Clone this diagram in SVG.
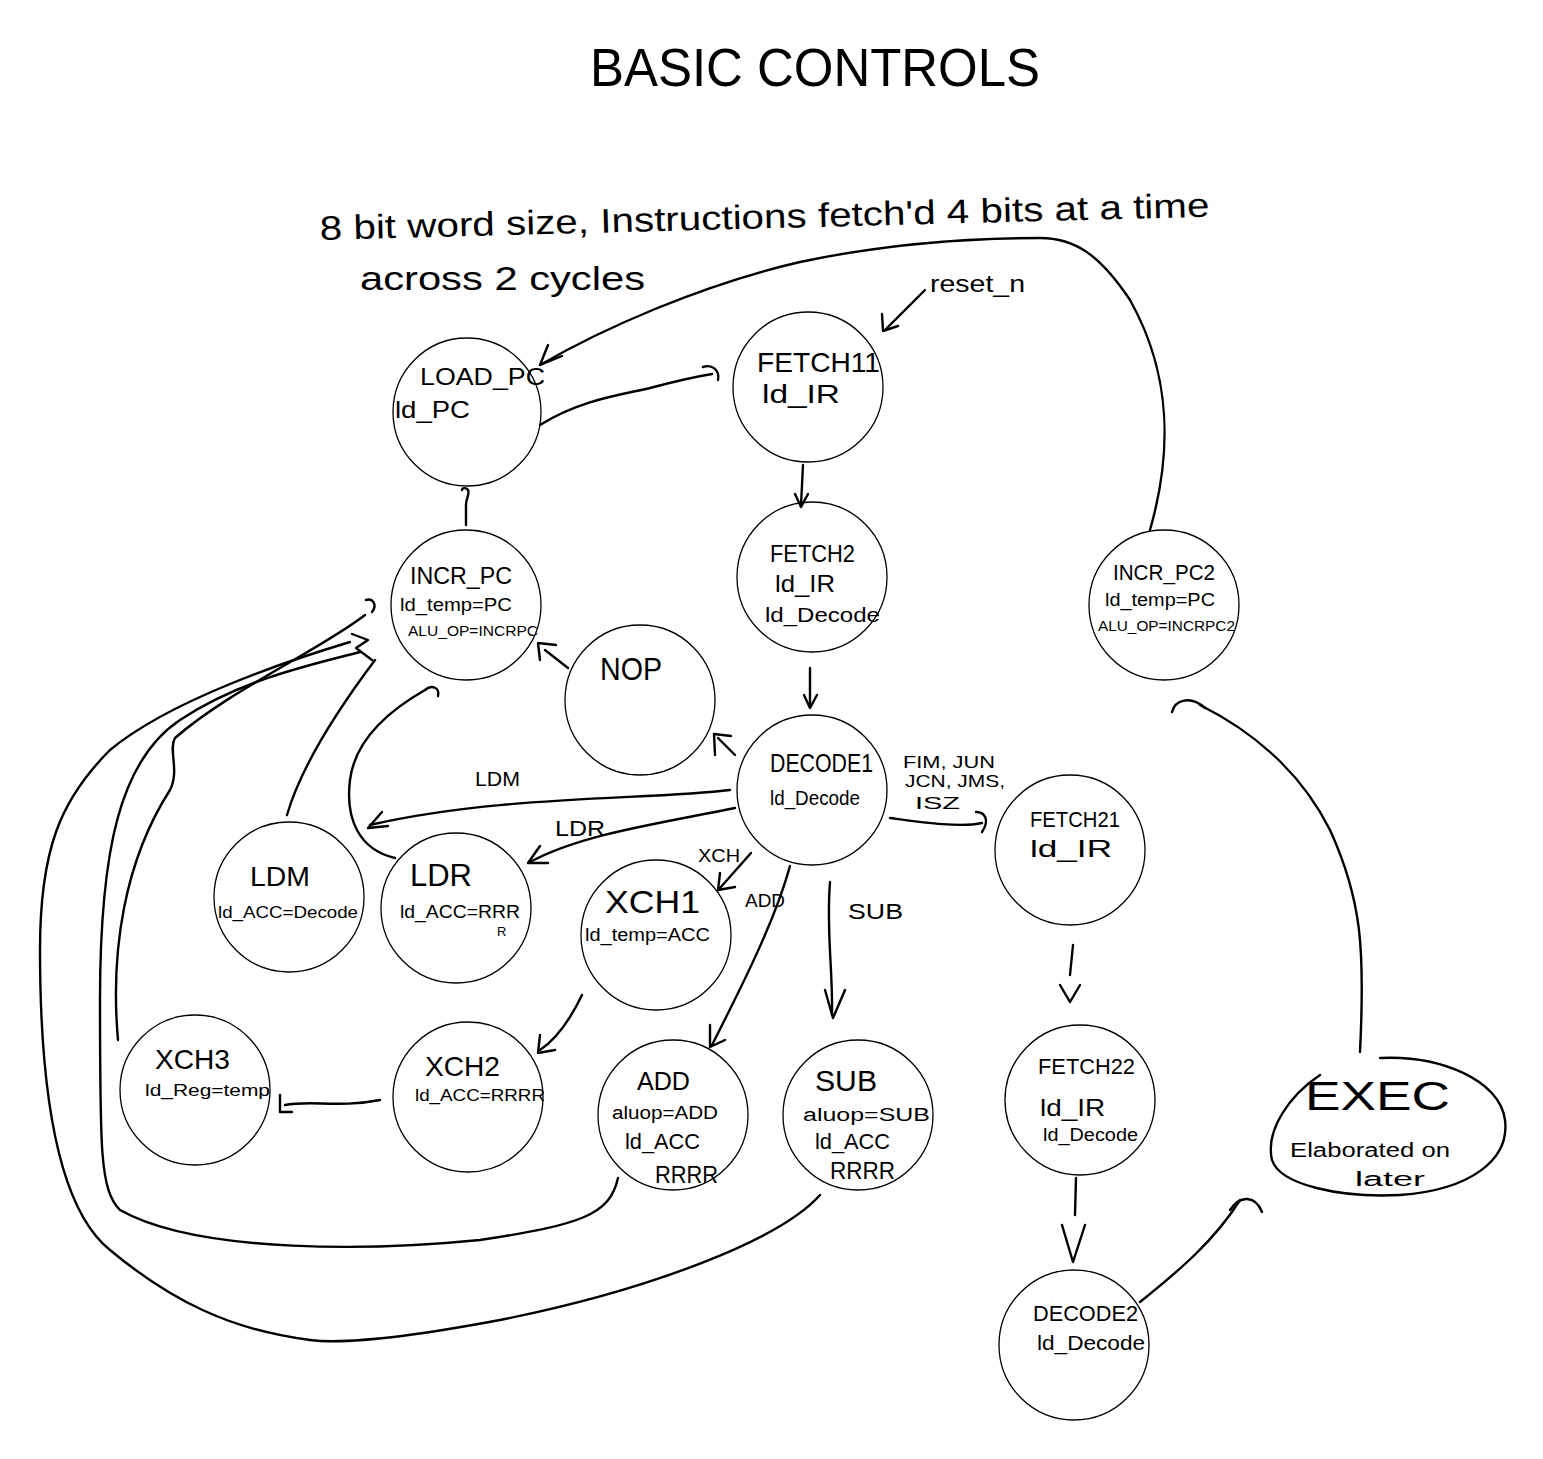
<svg xmlns="http://www.w3.org/2000/svg" width="1543" height="1459" viewBox="0 0 1543 1459">
<style>
.bg{fill:#fff}
.st{fill:none;stroke:#000;stroke-width:1.3}
.c{fill:none;stroke:#000;stroke-width:2.4;stroke-linecap:round;stroke-linejoin:round}
text{font-family:"Liberation Sans","DejaVu Sans",sans-serif;fill:#000}
.t{font-size:24px}
.s{font-size:18px}
.lb{font-size:20px}
</style>
<rect class="bg" x="0" y="0" width="1543" height="1459"/>
<g id="title">
<text x="590" y="86" font-size="54" textLength="450" lengthAdjust="spacingAndGlyphs" style="font-weight:300">BASIC  CONTROLS</text>
<text x="320" y="240" font-size="34" textLength="890" lengthAdjust="spacingAndGlyphs" transform="rotate(-1.5 320 240)">8 bit word size, Instructions fetch'd 4 bits at a time</text>
<text x="360" y="290" font-size="34" textLength="285" lengthAdjust="spacingAndGlyphs">across 2 cycles</text>
<text x="930" y="292" font-size="24" textLength="95" lengthAdjust="spacingAndGlyphs">reset_n</text>
</g>
<g id="load_pc"><circle class="st" cx="467" cy="412" r="74"/>
<text x="420" y="385" class="t" textLength="125" lengthAdjust="spacingAndGlyphs">LOAD_PC</text>
<text x="395" y="418" class="t" textLength="75" lengthAdjust="spacingAndGlyphs">ld_PC</text></g>
<g id="fetch11"><circle class="st" cx="808" cy="387" r="75"/>
<text x="757" y="372" font-size="28" textLength="123" lengthAdjust="spacingAndGlyphs">FETCH11</text>
<text x="762" y="403" font-size="26" textLength="78" lengthAdjust="spacingAndGlyphs">ld_IR</text></g>
<g id="fetch2"><circle class="st" cx="812" cy="577" r="75"/>
<text x="770" y="562" class="t" textLength="85" lengthAdjust="spacingAndGlyphs">FETCH2</text>
<text x="775" y="592" class="t" textLength="60" lengthAdjust="spacingAndGlyphs">ld_IR</text>
<text x="765" y="622" class="lb" textLength="115" lengthAdjust="spacingAndGlyphs">ld_Decode</text></g>
<g id="incr_pc"><circle class="st" cx="466" cy="605" r="75"/>
<text x="410" y="584" class="t" textLength="102" lengthAdjust="spacingAndGlyphs">INCR_PC</text>
<text x="400" y="611" class="s" textLength="112" lengthAdjust="spacingAndGlyphs">ld_temp=PC</text>
<text x="408" y="636" font-size="15" textLength="130" lengthAdjust="spacingAndGlyphs">ALU_OP=INCRPC</text></g>
<g id="nop"><circle class="st" cx="640" cy="700" r="75"/>
<text x="600" y="680" font-size="32" textLength="62" lengthAdjust="spacingAndGlyphs">NOP</text></g>
<g id="incr_pc2"><circle class="st" cx="1164" cy="605" r="75"/>
<text x="1113" y="580" font-size="22" textLength="102" lengthAdjust="spacingAndGlyphs">INCR_PC2</text>
<text x="1105" y="606" class="s" textLength="110" lengthAdjust="spacingAndGlyphs">ld_temp=PC</text>
<text x="1098" y="631" font-size="15" textLength="137" lengthAdjust="spacingAndGlyphs">ALU_OP=INCRPC2</text></g>
<g id="decode1"><circle class="st" cx="812" cy="790" r="75"/>
<text x="770" y="772" font-size="26" textLength="103" lengthAdjust="spacingAndGlyphs">DECODE1</text>
<text x="770" y="805" class="lb" textLength="90" lengthAdjust="spacingAndGlyphs">ld_Decode</text></g>
<g id="fetch21"><circle class="st" cx="1070" cy="850" r="75"/>
<text x="1030" y="827" font-size="22" textLength="90" lengthAdjust="spacingAndGlyphs">FETCH21</text>
<text x="1030" y="857" class="t" textLength="82" lengthAdjust="spacingAndGlyphs">ld_IR</text></g>
<g id="ldm"><circle class="st" cx="289" cy="897" r="75"/>
<text x="250" y="886" font-size="28" textLength="60" lengthAdjust="spacingAndGlyphs">LDM</text>
<text x="218" y="918" font-size="16" textLength="140" lengthAdjust="spacingAndGlyphs">ld_ACC=Decode</text></g>
<g id="ldr"><circle class="st" cx="456" cy="908" r="75"/>
<text x="410" y="886" font-size="32" textLength="62" lengthAdjust="spacingAndGlyphs">LDR</text>
<text x="400" y="918" class="s" textLength="120" lengthAdjust="spacingAndGlyphs">ld_ACC=RRR</text>
<text x="497" y="936" font-size="13">R</text></g>
<g id="xch1"><circle class="st" cx="656" cy="935" r="75"/>
<text x="605" y="913" font-size="32" textLength="95" lengthAdjust="spacingAndGlyphs">XCH1</text>
<text x="585" y="941" class="s" textLength="125" lengthAdjust="spacingAndGlyphs">ld_temp=ACC</text></g>
<g id="xch3"><circle class="st" cx="195" cy="1090" r="75"/>
<text x="155" y="1069" font-size="28" textLength="75" lengthAdjust="spacingAndGlyphs">XCH3</text>
<text x="145" y="1096" font-size="17" textLength="125" lengthAdjust="spacingAndGlyphs">ld_Reg=temp</text></g>
<g id="xch2"><circle class="st" cx="468" cy="1097" r="75"/>
<text x="425" y="1076" font-size="28" textLength="75" lengthAdjust="spacingAndGlyphs">XCH2</text>
<text x="415" y="1101" font-size="17" textLength="130" lengthAdjust="spacingAndGlyphs">ld_ACC=RRRR</text></g>
<g id="add"><circle class="st" cx="673" cy="1115" r="75"/>
<text x="637" y="1090" font-size="26" textLength="53" lengthAdjust="spacingAndGlyphs">ADD</text>
<text x="612" y="1119" class="s" textLength="106" lengthAdjust="spacingAndGlyphs">aluop=ADD</text>
<text x="625" y="1149" font-size="22" textLength="75" lengthAdjust="spacingAndGlyphs">ld_ACC</text>
<text x="655" y="1183" class="t" textLength="63" lengthAdjust="spacingAndGlyphs">RRRR</text></g>
<g id="sub"><circle class="st" cx="858" cy="1115" r="75"/>
<text x="815" y="1091" font-size="30" textLength="62" lengthAdjust="spacingAndGlyphs">SUB</text>
<text x="803" y="1121" class="s" textLength="127" lengthAdjust="spacingAndGlyphs">aluop=SUB</text>
<text x="815" y="1149" font-size="22" textLength="75" lengthAdjust="spacingAndGlyphs">ld_ACC</text>
<text x="830" y="1179" class="t" textLength="65" lengthAdjust="spacingAndGlyphs">RRRR</text></g>
<g id="fetch22"><circle class="st" cx="1080" cy="1100" r="75"/>
<text x="1038" y="1074" font-size="22" textLength="97" lengthAdjust="spacingAndGlyphs">FETCH22</text>
<text x="1040" y="1116" class="t" textLength="65" lengthAdjust="spacingAndGlyphs">ld_IR</text>
<text x="1043" y="1141" class="s" textLength="95" lengthAdjust="spacingAndGlyphs">ld_Decode</text></g>
<g id="decode2"><circle class="st" cx="1074" cy="1345" r="75"/>
<text x="1033" y="1321" font-size="22" textLength="105" lengthAdjust="spacingAndGlyphs">DECODE2</text>
<text x="1037" y="1350" class="lb" textLength="108" lengthAdjust="spacingAndGlyphs">ld_Decode</text></g>
<g id="exec"><path class="c" d="M1380,1058 C1440,1055 1500,1080 1505,1120 C1510,1160 1470,1190 1400,1195 C1340,1198 1280,1185 1272,1160 C1265,1130 1290,1095 1320,1075"/>
<text x="1305" y="1110" font-size="40" textLength="145" lengthAdjust="spacingAndGlyphs">EXEC</text>
<text x="1290" y="1157" class="lb" textLength="160" lengthAdjust="spacingAndGlyphs">Elaborated on</text>
<text x="1355" y="1186" class="lb" textLength="70" lengthAdjust="spacingAndGlyphs">later</text></g>
<g id="connectors">
<path class="c" d="M1150,530 C1170,460 1175,380 1130,300 C1100,255 1075,238 1040,238 C960,238 880,245 800,262 C700,285 600,330 540,365"/>
<path class="c" d="M548,345 L540,365 L562,356"/>
<path class="c" d="M540,425 C580,400 620,395 650,388 C680,380 700,376 712,374"/>
<path class="c" d="M703,367 C712,364 720,370 718,380"/>
<path class="c" d="M925,290 L885,330"/>
<path class="c" d="M882,314 L883,331 L898,326"/>
<path class="c" d="M803,465 L801,505"/>
<path class="c" d="M795,494 L801,507 L808,494"/>
<path class="c" d="M810,668 L810,706"/>
<path class="c" d="M804,695 L810,708 L817,695"/>
<path class="c" d="M466,525 L466,505 C466,498 470,494 468,490 C466,487 462,488 462,490"/>
<path class="c" d="M568,668 L545,650"/>
<path class="c" d="M540,660 L538,643 L556,645"/>
<path class="c" d="M735,755 L718,738"/>
<path class="c" d="M715,755 L714,734 L731,736"/>
<path class="c" d="M730,790 C650,800 500,795 370,825"/>
<path class="c" d="M382,812 L368,828 L388,826"/>
<path class="c" d="M735,808 C650,825 580,835 530,862"/>
<path class="c" d="M540,846 L528,863 L548,863"/>
<path class="c" d="M751,853 L720,888"/>
<path class="c" d="M720,873 L718,890 L735,887"/>
<path class="c" d="M790,866 C775,920 745,980 712,1045"/>
<path class="c" d="M710,1025 L710,1047 L725,1040"/>
<path class="c" d="M830,882 C826,930 833,970 832,1015"/>
<path class="c" d="M825,990 L833,1018 L845,990"/>
<path class="c" d="M890,818 C920,822 960,828 982,823"/>
<path class="c" d="M976,812 C985,812 990,820 982,832"/>
<path class="c" d="M1073,945 L1070,975"/>
<path class="c" d="M1060,985 L1070,1002 L1080,985"/>
<path class="c" d="M1076,1178 L1075,1215"/>
<path class="c" d="M1062,1225 L1073,1262 L1085,1225"/>
<path class="c" d="M1140,1302 C1180,1270 1215,1240 1240,1200"/>
<path class="c" d="M1230,1210 C1240,1195 1255,1195 1262,1212"/>
<path class="c" d="M1360,1052 C1365,950 1362,900 1330,830 C1300,770 1250,730 1200,705"/>
<path class="c" d="M1172,712 C1175,700 1190,695 1205,708"/>
<path class="c" d="M287,815 C300,770 330,720 375,660"/>
<path class="c" d="M395,858 C360,850 345,820 350,780 C355,740 390,710 425,690"/>
<path class="c" d="M425,690 C432,684 440,688 438,696"/>
<path class="c" d="M118,1040 C110,950 125,860 170,790 C180,770 168,750 175,738 C230,690 320,650 365,615"/>
<path class="c" d="M366,600 C372,598 378,604 372,612"/>
<path class="c" d="M618,1178 C610,1215 580,1225 480,1240 C380,1250 200,1255 120,1210 C100,1190 100,1150 100,1000 C100,850 120,760 180,720 C240,680 310,665 360,652"/>
<path class="c" d="M820,1195 C780,1240 650,1290 500,1320 C420,1335 350,1345 310,1340 C230,1330 170,1300 110,1250 C60,1210 40,1100 40,950 C40,850 60,800 110,750 C170,700 290,660 350,642"/>
<path class="c" d="M352,634 L368,640 L356,648 L372,660"/>
<path class="c" d="M380,1100 C340,1108 310,1100 285,1105"/>
<path class="c" d="M280,1095 L280,1112 L292,1112"/>
<path class="c" d="M582,995 C570,1020 555,1040 540,1050"/>
<path class="c" d="M540,1035 L538,1053 L555,1050"/>
</g>
<g id="edge_labels">
<text x="475" y="786" class="lb" textLength="45" lengthAdjust="spacingAndGlyphs">LDM</text>
<text x="555" y="836" font-size="22" textLength="50" lengthAdjust="spacingAndGlyphs">LDR</text>
<text x="698" y="862" class="s" textLength="42" lengthAdjust="spacingAndGlyphs">XCH</text>
<text x="745" y="907" class="s" textLength="40" lengthAdjust="spacingAndGlyphs">ADD</text>
<text x="848" y="919" font-size="22" textLength="55" lengthAdjust="spacingAndGlyphs">SUB</text>
<text x="903" y="768" font-size="17" textLength="92" lengthAdjust="spacingAndGlyphs">FIM, JUN</text>
<text x="905" y="787" font-size="17" textLength="100" lengthAdjust="spacingAndGlyphs">JCN, JMS,</text>
<text x="915" y="809" font-size="17" textLength="45" lengthAdjust="spacingAndGlyphs">ISZ</text>
</g>
</svg>
